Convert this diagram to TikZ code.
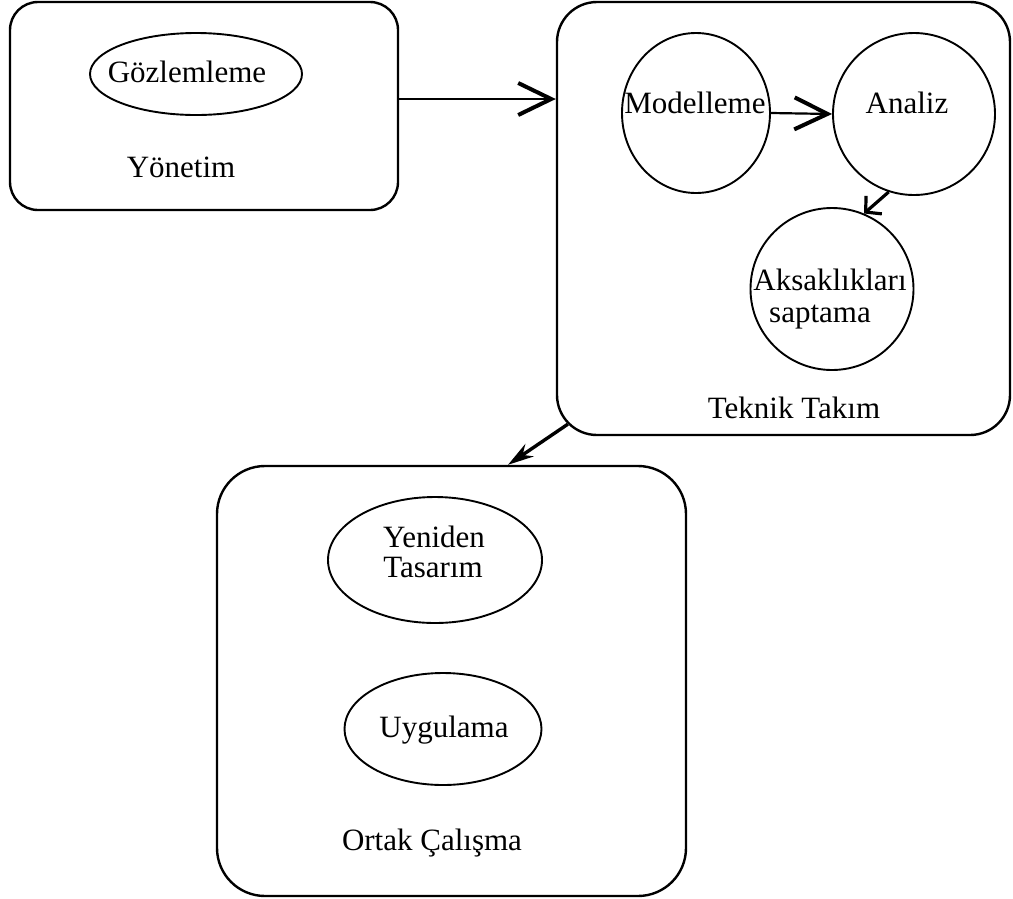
\documentclass[tikz,border=0pt]{standalone}
\usepackage{fontspec}
\setmainfont{Liberation Serif}
\usetikzlibrary{shapes.geometric,arrows.meta,calc}
\begin{document}
\begin{tikzpicture}[x=1pt,y=-1pt,
  box/.style={draw,line width=2.4pt,rectangle,inner sep=0pt},
  oval/.style={draw,line width=1.9pt,ellipse,inner sep=0pt},
  lbl/.style={anchor=base,inner sep=0pt,font=\fontsize{31}{31}\selectfont},
  bigarrow/.style={line width=2.2pt,-{Straight Barb[length=33pt,width=32pt,line width=4pt]}},
  smallarrow/.style={line width=3.2pt,-{Straight Barb[length=11pt,width=24pt,line width=3.2pt]}},
  filledarrow/.style={line width=3.4pt,-{Stealth[length=26pt,width=15pt]}}]
\useasboundingbox (0,0) rectangle (1013,898);
% boxes
\node[box,rounded corners=28pt,minimum width=388pt,minimum height=208pt] (yon) at (204,106) {};
\node[box,rounded corners=40pt,minimum width=453pt,minimum height=433pt] (tek) at (783.5,218.5) {};
\node[box,rounded corners=48pt,minimum width=469pt,minimum height=430pt] (ort) at (451.5,681) {};
% ovals
\node[oval,minimum width=212pt,minimum height=82pt] (goz) at (196,74) {};
\node[oval,minimum width=148pt,minimum height=160pt] (mod) at (696,113) {};
\node[oval,minimum width=162pt,minimum height=162pt] (an) at (914,114) {};
\node[oval,minimum width=163pt,minimum height=162pt] (ak) at (832,289) {};
\node[oval,minimum width=214pt,minimum height=126pt] (yen) at (435,560) {};
\node[oval,minimum width=197pt,minimum height=112pt] (uyg) at (443,729) {};
% labels
\node[lbl] (gozt) at (187,82) {Gözlemleme};
\node[lbl] (yont) at (181,177) {Yönetim};
\node[lbl] (modt) at (695,113) {Modelleme};
\node[lbl] (ant) at (907,113) {Analiz};
\node[lbl] (akt1) at (830,290) {Aksaklıkları};
\node[lbl] (akt2) at (820,322) {saptama};
\node[lbl] (tekt) at (794,418) {Teknik Takım};
\node[lbl] (yent1) at (434,547) {Yeniden};
\node[lbl] (yent2) at (433,577) {Tasarım};
\node[lbl] (uygt) at (444,737) {Uygulama};
\node[lbl] (ortt) at (432,850) {Ortak Çalışma};
% connectors
\coordinate (ya) at (0,99);
\coordinate (oa) at (508,466);
\draw[bigarrow] (yon.east |- ya) -- (tek.west |- ya);
\draw[bigarrow] (mod.east) -- (an.west);
\draw[smallarrow] (an.252) -- (ak.67);
\draw[filledarrow] ($(tek.south west)+(12,-12)$) -- (ort.north -| oa);
\end{tikzpicture}
\end{document}
